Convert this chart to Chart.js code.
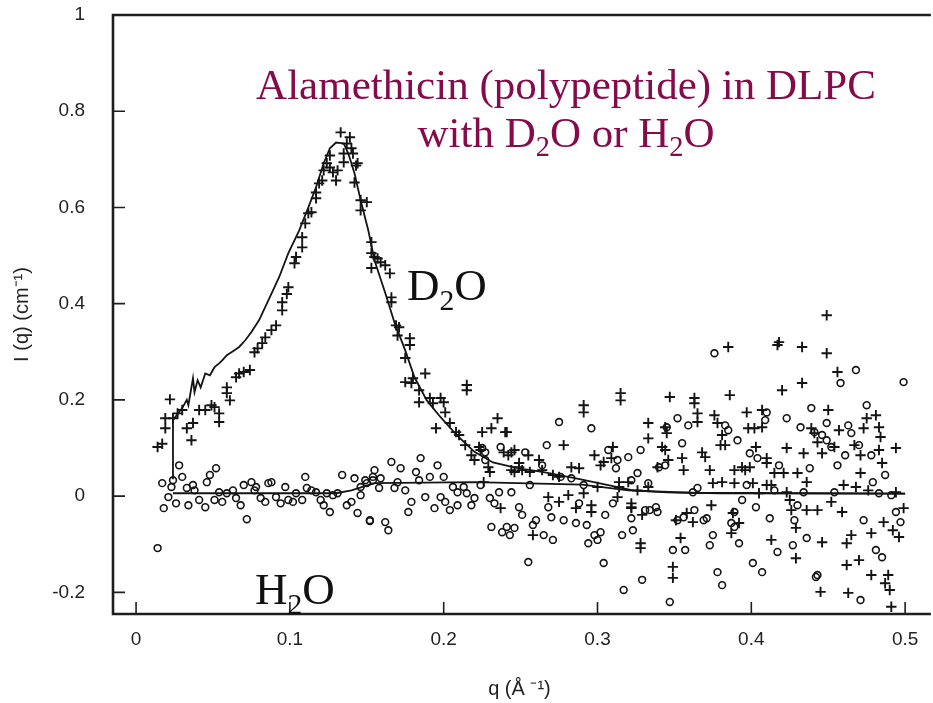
<!DOCTYPE html>
<html>
<head>
<meta charset="utf-8">
<script src="https://cdn.jsdelivr.net/npm/chart.js@4.4.0/dist/chart.umd.min.js"></script>
<style>
  html, body { margin: 0; padding: 0; background: #fff; overflow: hidden; }
  #wrap { width: 933px; height: 703px; }
</style>
</head>
<body>
<div id="wrap"><canvas id="chart" width="933" height="703"></canvas></div>
<script>
// ----- axis ticks -----
const xTicks = [0, 0.1, 0.2, 0.3, 0.4, 0.5];
const yTicks = [-0.2, 0, 0.2, 0.4, 0.6, 0.8, 1];

// ----- D2O measured points (+) -----
const d2oQ = [
  0.014, 0.017, 0.022, 0.019, 0.019, 0.024, 0.027, 0.030, 0.033, 0.036, 0.037, 0.041, 0.045, 0.049, 0.051,
  0.054, 0.054, 0.059, 0.059, 0.061, 0.065, 0.067, 0.070, 0.074, 0.077, 0.079, 0.082, 0.084, 0.088, 0.091,
  0.095, 0.095, 0.099, 0.098, 0.103, 0.104, 0.108, 0.108, 0.110, 0.112, 0.114, 0.117, 0.117, 0.119, 0.121,
  0.122, 0.124, 0.126, 0.126, 0.128, 0.130, 0.131, 0.133, 0.135, 0.135, 0.137, 0.139, 0.140, 0.141, 0.143,
  0.144, 0.142, 0.146, 0.150, 0.146, 0.153, 0.153, 0.153, 0.155,
  0.157, 0.159, 0.162, 0.165, 0.166, 0.166, 0.169, 0.171, 0.170, 0.178, 0.178, 0.175, 0.175, 0.179, 0.180,
  0.188, 0.184, 0.184, 0.191, 0.193, 0.198, 0.200, 0.201, 0.204, 0.195, 0.208, 0.210, 0.215, 0.215, 0.214,
  0.218, 0.220, 0.225, 0.231, 0.235, 0.240, 0.223, 0.229, 0.230, 0.226, 0.242, 0.246, 0.244, 0.249, 0.255,
  0.256, 0.262, 0.268, 0.237, 0.258,
  0.241, 0.224, 0.239, 0.244, 0.246, 0.249, 0.251, 0.264, 0.271, 0.275, 0.278, 0.283, 0.288, 0.291, 0.291,
  0.298, 0.302, 0.304, 0.309, 0.310, 0.315, 0.315, 0.275, 0.281, 0.286, 0.291, 0.296, 0.296, 0.300, 0.314,
  0.313, 0.322,
  0.347, 0.363, 0.363, 0.386, 0.385, 0.333, 0.333, 0.344, 0.345, 0.342, 0.344, 0.346, 0.339, 0.355, 0.356,
  0.365, 0.365, 0.368, 0.370, 0.373, 0.376, 0.378, 0.381, 0.380, 0.383, 0.375, 0.381, 0.389, 0.389, 0.394,
  0.396, 0.397, 0.398, 0.402, 0.407, 0.407, 0.403, 0.399, 0.401, 0.405, 0.410, 0.413, 0.314, 0.320, 0.326,
  0.333, 0.322, 0.322, 0.329, 0.328, 0.328, 0.351, 0.354, 0.358, 0.362, 0.374, 0.349, 0.349, 0.387, 0.388,
  0.392, 0.413,
  0.449, 0.418, 0.417, 0.433, 0.449, 0.456, 0.433, 0.420, 0.450, 0.481, 0.475, 0.483, 0.473, 0.457, 0.439,
  0.441, 0.443, 0.484, 0.454, 0.467, 0.423, 0.434, 0.446, 0.471, 0.483, 0.494, 0.485, 0.410, 0.415, 0.421,
  0.430, 0.436, 0.471, 0.460, 0.468, 0.410, 0.423, 0.425, 0.426, 0.436, 0.443, 0.452, 0.459, 0.476, 0.494,
  0.499, 0.429, 0.446, 0.465, 0.462, 0.478, 0.486, 0.492, 0.496, 0.429, 0.462, 0.470, 0.478, 0.489, 0.487,
  0.490, 0.445, 0.463, 0.491
];
const d2oI = [
  0.102, 0.109, 0.201, 0.162, 0.141, 0.162, 0.172, 0.179, 0.141, 0.116, 0.152, 0.179, 0.179, 0.189, 0.185,
  0.172, 0.154, 0.214, 0.226, 0.199, 0.247, 0.255, 0.258, 0.262, 0.299, 0.307, 0.318, 0.330, 0.345, 0.355,
  0.386, 0.403, 0.434, 0.420, 0.484, 0.497, 0.517, 0.538, 0.567, 0.588, 0.590, 0.619, 0.631, 0.650, 0.656,
  0.677, 0.692, 0.683, 0.708, 0.673, 0.656, 0.677, 0.756, 0.712, 0.694, 0.733, 0.746, 0.723, 0.712, 0.687,
  0.692, 0.652, 0.615, 0.611, 0.594, 0.528, 0.505, 0.474, 0.497,
  0.494, 0.486, 0.480, 0.463, 0.413, 0.403, 0.355, 0.351, 0.334, 0.328, 0.314, 0.287, 0.237, 0.235, 0.245,
  0.255, 0.220, 0.195, 0.204, 0.193, 0.204, 0.195, 0.174, 0.152, 0.141, 0.133, 0.127, 0.231, 0.220, 0.106,
  0.085, 0.075, 0.133, 0.141, 0.162, 0.133, 0.102, 0.060, 0.050, 0.029, 0.085, 0.096, 0.054, 0.060, 0.085,
  0.050, 0.075, -0.002, -0.025, -0.081,
  0.133, 0.096, 0.091, 0.091, 0.050, 0.069, 0.054, 0.054, 0.044, 0.040, 0.106, 0.060, 0.058, 0.189, 0.174,
  0.085, 0.064, 0.071, 0.079, 0.102, 0.214, 0.199, -0.012, 0.002, -0.025, 0.006, -0.019, -0.033, 0.019, 0.019,
  -0.002, -0.023,
  0.206, 0.204, 0.193, 0.210, 0.310, 0.152, 0.120, 0.143, 0.131, 0.102, 0.096, 0.075, 0.060, 0.079, 0.054,
  0.172, 0.154, 0.091, 0.081, 0.054, 0.168, 0.152, 0.127, 0.106, 0.106, 0.027, 0.029, 0.027, 0.054, 0.060,
  0.054, 0.174, 0.141, 0.141, 0.143, 0.179, 0.102, 0.060, 0.027, 0.006, 0.079, 0.023, 0.029, 0.029, 0.012,
  0.019, -0.015, -0.025, -0.039, -0.098, -0.108, -0.050, -0.087, -0.035, -0.054, -0.019, -0.147, -0.170, -0.077, -0.035,
  -0.056, -0.091,
  0.376, 0.320, 0.314, 0.310, 0.297, 0.258, 0.235, 0.220, 0.179, 0.168, 0.162, 0.143, 0.141, 0.137, 0.141,
  0.131, 0.112, 0.123, 0.102, 0.106, 0.100, 0.089, 0.089, 0.085, 0.096, 0.100, 0.069, 0.069, 0.048, 0.048,
  0.048, 0.029, 0.048, 0.023, 0.019, 0.023, 0.008, -0.008, -0.029, -0.029, -0.029, -0.012, -0.033, 0.012, 0.008,
  -0.025, -0.066, -0.096, -0.081, -0.098, -0.077, -0.054, -0.071, -0.085, -0.129, -0.143, -0.133, -0.164, -0.164, -0.181,
  -0.195, -0.199, -0.201, -0.230
];

// ----- H2O measured points (o) -----
const h2oQ = [
  0.014, 0.017, 0.021, 0.018, 0.024, 0.023, 0.026, 0.028, 0.030, 0.033, 0.034, 0.037, 0.038, 0.041, 0.045,
  0.046, 0.048, 0.052, 0.051, 0.054, 0.056, 0.059, 0.063, 0.065, 0.068, 0.070, 0.072, 0.075, 0.077, 0.078,
  0.081, 0.084, 0.086, 0.088, 0.091, 0.094, 0.097, 0.099, 0.102, 0.104, 0.108, 0.110, 0.111, 0.114, 0.117,
  0.120, 0.122, 0.124, 0.126, 0.128, 0.131, 0.134, 0.137, 0.140, 0.142, 0.144, 0.146, 0.150, 0.152, 0.154,
  0.155,
  0.166, 0.172, 0.154, 0.159, 0.149, 0.146, 0.158, 0.168, 0.175, 0.170, 0.185, 0.182, 0.184, 0.191, 0.196,
  0.200, 0.188, 0.179, 0.177, 0.194, 0.198, 0.201, 0.204, 0.206, 0.209, 0.209, 0.213, 0.215, 0.218, 0.220,
  0.225, 0.227, 0.224, 0.230, 0.233, 0.236, 0.231, 0.238, 0.241, 0.243, 0.246, 0.244, 0.249, 0.251, 0.237,
  0.253, 0.256, 0.258, 0.260, 0.264, 0.265, 0.267, 0.268, 0.270, 0.271, 0.152, 0.162, 0.164,
  0.275, 0.296, 0.227, 0.276, 0.283, 0.291, 0.278, 0.286, 0.288, 0.293, 0.294, 0.298, 0.300, 0.302, 0.305,
  0.310, 0.312, 0.313, 0.320, 0.307, 0.322, 0.322, 0.323, 0.316, 0.255, 0.304, 0.317,
  0.376, 0.352, 0.359, 0.345, 0.385, 0.383, 0.410, 0.409, 0.391, 0.355, 0.328, 0.344, 0.340, 0.399, 0.404,
  0.326, 0.333, 0.365, 0.362, 0.397, 0.394, 0.403, 0.331, 0.334, 0.338, 0.339, 0.352, 0.356, 0.363, 0.369,
  0.371, 0.389, 0.387, 0.389, 0.375, 0.373, 0.392, 0.349, 0.357, 0.401, 0.407, 0.378, 0.381, 0.329, 0.347,
  0.468, 0.499, 0.458, 0.475, 0.439, 0.423, 0.432, 0.449, 0.446, 0.441, 0.449, 0.452, 0.463, 0.465, 0.470,
  0.461, 0.478, 0.456, 0.418, 0.438, 0.487, 0.479, 0.415, 0.434, 0.454, 0.483, 0.491, 0.430, 0.494, 0.412,
  0.428, 0.473, 0.497, 0.436, 0.427, 0.417, 0.481, 0.485, 0.443, 0.442, 0.471
];
const h2oI = [
  -0.108, 0.027, -0.002, -0.025, 0.033, 0.019, -0.015, 0.064, 0.040, 0.017, -0.019, 0.023, 0.012, -0.008, -0.023,
  0.029, 0.044, 0.058, -0.008, 0.008, -0.012, 0.006, 0.012, -0.004, -0.019, 0.023, -0.048, 0.029, 0.012, 0.019,
  -0.004, -0.012, 0.027, 0.029, -0.002, -0.015, 0.019, -0.008, -0.012, 0.006, -0.008, 0.040, 0.017, 0.012, 0.008,
  -0.008, -0.019, 0.006, -0.033, 0.002, 0.006, 0.044, -0.019, -0.012, 0.037, -0.035, 0.002, 0.027, -0.052, 0.033,
  0.054,
  0.071, 0.058, 0.040, 0.037, 0.033, 0.019, 0.017, 0.017, 0.012, 0.029, 0.079, 0.050, 0.033, 0.040, 0.064,
  0.040, -0.002, -0.012, -0.033, -0.025, -0.002, -0.012, -0.029, 0.019, -0.019, 0.008, 0.019, 0.006, -0.019, -0.004,
  0.100, 0.075, 0.023, -0.004, -0.015, 0.008, -0.064, -0.075, -0.064, -0.081, -0.066, 0.008, -0.023, -0.039, 0.102,
  0.091, 0.023, -0.060, -0.050, 0.064, -0.081, 0.106, -0.023, -0.044, -0.091, -0.050, -0.054, -0.071,
  0.154, 0.141, 0.091, 0.040, 0.037, 0.023, -0.050, -0.056, -0.015, -0.060, -0.098, -0.081, -0.091, -0.075, -0.039,
  -0.015, 0.058, 0.075, 0.081, 0.096, 0.033, -0.046, -0.071, -0.081, -0.137, -0.139, -0.195,
  0.297, 0.162, 0.147, 0.143, 0.137, 0.147, 0.174, 0.158, 0.116, 0.110, 0.096, 0.064, 0.060, 0.089, 0.079,
  0.048, 0.027, 0.017, 0.008, 0.023, -0.008, -0.023, -0.029, -0.029, -0.023, -0.033, -0.050, -0.044, -0.029, -0.050,
  -0.046, -0.033, -0.056, -0.064, -0.081, -0.102, -0.098, -0.112, -0.112, -0.139, -0.158, -0.158, -0.185, -0.174, -0.220,
  0.262, 0.237, 0.235, 0.189, 0.183, 0.162, 0.143, 0.152, 0.127, 0.133, 0.116, 0.102, 0.147, 0.131, 0.106,
  0.085, 0.085, 0.064, 0.064, 0.058, 0.044, 0.029, 0.012, 0.008, 0.008, 0.006, 0.002, -0.019, -0.033, -0.046,
  -0.050, -0.050, -0.054, -0.087, -0.102, -0.116, -0.112, -0.127, -0.164, -0.168, -0.216
];

// ----- fitted curves (solid lines) -----
const d2oFitQ = [
  0.024, 0.024, 0.030, 0.033, 0.034, 0.037, 0.038, 0.040, 0.042, 0.045, 0.048, 0.051, 0.054, 0.056, 0.059,
  0.064, 0.067, 0.071, 0.075, 0.080, 0.086, 0.093, 0.099, 0.106, 0.112, 0.117, 0.122, 0.126, 0.130, 0.135,
  0.138, 0.142, 0.146, 0.151, 0.155, 0.162, 0.168, 0.175, 0.181, 0.189, 0.198, 0.209, 0.220, 0.232, 0.243,
  0.252, 0.265, 0.286, 0.307, 0.323, 0.345, 0.380, 0.500
];
const d2oFitI = [
  0.035, 0.158, 0.183, 0.200, 0.189, 0.245, 0.216, 0.241, 0.226, 0.255, 0.251, 0.268, 0.276, 0.282, 0.293,
  0.303, 0.310, 0.324, 0.341, 0.366, 0.407, 0.455, 0.505, 0.552, 0.600, 0.642, 0.692, 0.723, 0.735, 0.733,
  0.712, 0.671, 0.615, 0.552, 0.490, 0.422, 0.361, 0.303, 0.247, 0.199, 0.164, 0.125, 0.092, 0.070, 0.062,
  0.056, 0.050, 0.037, 0.023, 0.012, 0.008, 0.006, 0.005
];
const h2oFitQ = [0.024, 0.130, 0.140, 0.155, 0.220, 0.290, 0.320, 0.360, 0.500];
const h2oFitI = [0.006, 0.006, 0.012, 0.027, 0.029, 0.024, 0.012, 0.007, 0.005];

const INK = '#141414';
const TITLE_COLOR = '#850B4B';

function toPoints(qs, is) {
  return qs.map((q, k) => ({ x: q, y: is[k] }));
}

// texto com índices (ex: D2O)
function richText(ctx, parts, x, y, size, align) {
  const subSize = size * 0.66;
  let w = 0;
  parts.forEach(([t, sub]) => {
    ctx.font = `${sub ? subSize : size}px "Liberation Serif", "Times New Roman", serif`;
    w += ctx.measureText(t).width;
  });
  let cx = align === 'center' ? x - w / 2 : x;
  parts.forEach(([t, sub]) => {
    ctx.font = `${sub ? subSize : size}px "Liberation Serif", "Times New Roman", serif`;
    ctx.fillText(t, cx, sub ? y + size * 0.22 : y);
    cx += ctx.measureText(t).width;
  });
}

const decor = {
  id: 'decor',
  afterDraw(chart) {
    const { ctx, chartArea: a, scales: { x, y } } = chart;
    ctx.save();
    ctx.strokeStyle = '#1e1e1e';
    ctx.lineCap = 'butt';
    // marcas internas dos eixos
    ctx.lineWidth = 1.6;
    ctx.beginPath();
    yTicks.forEach(v => {
      const py = y.getPixelForValue(v);
      ctx.moveTo(a.left, py);
      ctx.lineTo(a.left + 12, py);
    });
    xTicks.forEach(v => {
      const px = x.getPixelForValue(v);
      ctx.moveTo(px, a.bottom);
      ctx.lineTo(px, a.bottom - 12);
    });
    ctx.stroke();
    // moldura (esquerda, topo, base)
    ctx.lineWidth = 2.6;
    ctx.beginPath();
    ctx.moveTo(a.right + 5, a.top);
    ctx.lineTo(a.left, a.top);
    ctx.lineTo(a.left, a.bottom);
    ctx.lineTo(a.right + 5, a.bottom);
    ctx.stroke();

    // títulos e rótulos
    ctx.textBaseline = 'alphabetic';
    ctx.textAlign = 'left';
    ctx.fillStyle = TITLE_COLOR;
    richText(ctx, [['Alamethicin (polypeptide) in DLPC']], 566, 99, 43, 'center');
    richText(ctx, [['with D'], ['2', 1], ['O or H'], ['2', 1], ['O']], 566, 147, 43, 'center');
    ctx.fillStyle = '#111';
    richText(ctx, [['D'], ['2', 1], ['O']], 407, 300, 45, 'left');
    richText(ctx, [['H'], ['2', 1], ['O']], 255, 604, 45, 'left');
    ctx.restore();
  }
};

const tickFont = { family: '"Liberation Sans", Arial, sans-serif', size: 19 };

new Chart(document.getElementById('chart'), {
  type: 'scatter',
  data: {
    datasets: [
      {
        type: 'line', label: 'D2O fit', data: toPoints(d2oFitQ, d2oFitI),
        borderColor: INK, borderWidth: 1.8, pointRadius: 0, tension: 0, fill: false
      },
      {
        type: 'line', label: 'H2O fit', data: toPoints(h2oFitQ, h2oFitI),
        borderColor: INK, borderWidth: 1.8, pointRadius: 0, tension: 0, fill: false
      },
      {
        label: 'D2O', data: toPoints(d2oQ, d2oI),
        pointStyle: 'cross', pointRadius: 5.2, borderColor: INK, borderWidth: 1.9
      },
      {
        label: 'H2O', data: toPoints(h2oQ, h2oI),
        pointStyle: 'circle', pointRadius: 3.4, borderColor: INK, borderWidth: 1.6,
        backgroundColor: 'rgba(255,255,255,0)'
      }
    ]
  },
  options: {
    responsive: false,
    animation: false,
    devicePixelRatio: 1,
    layout: { padding: { top: 15, right: 0, left: 0, bottom: 0 } },
    plugins: { legend: { display: false }, tooltip: { enabled: false } },
    scales: {
      x: {
        type: 'linear', min: -0.015, max: 0.5135,
        afterBuildTicks: s => { s.ticks = xTicks.map(v => ({ value: v })); },
        afterFit: s => { s.height = 89; s.paddingLeft = 0; s.paddingRight = 0; },
        grid: { display: false, drawTicks: false },
        border: { display: false },
        ticks: {
          color: '#222', font: tickFont, padding: 14, maxRotation: 0,
          callback: v => String(Math.round(v * 10) / 10)
        },
        title: {
          display: true, text: 'q (Å ⁻¹)', color: '#222',
          font: { family: '"Liberation Sans", Arial, sans-serif', size: 20 },
          padding: { top: 0, bottom: 2 }
        }
      },
      y: {
        type: 'linear', min: -0.245, max: 1.0,
        afterBuildTicks: s => { s.ticks = yTicks.map(v => ({ value: v })); },
        afterFit: s => { s.width = 113; s.paddingTop = 0; s.paddingBottom = 0; },
        grid: { display: false, drawTicks: false },
        border: { display: false },
        ticks: {
          color: '#222', font: tickFont, padding: 28,
          callback: v => String(Math.round(v * 10) / 10)
        },
        title: {
          display: true, text: 'I (q) (cm⁻¹)', color: '#222',
          font: { family: '"Liberation Sans", Arial, sans-serif', size: 20 },
          padding: { top: 10, bottom: 0 }
        }
      }
    }
  },
  plugins: [decor]
});
</script>
</body>
</html>
